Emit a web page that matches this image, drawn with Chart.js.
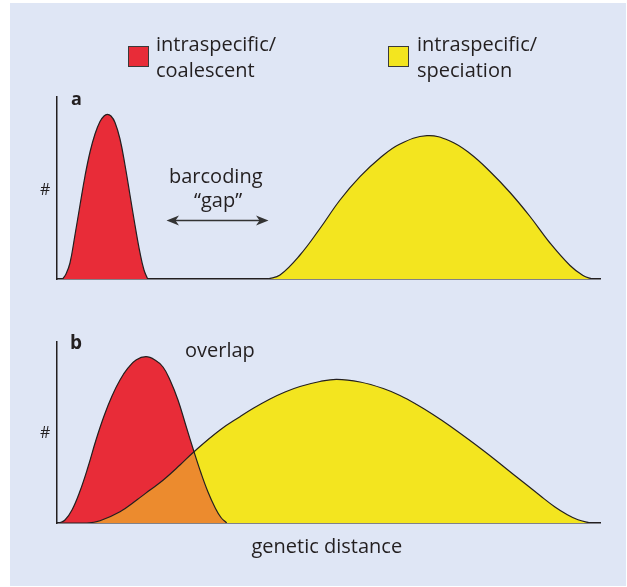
<!DOCTYPE html>
<html>
<head>
<meta charset="utf-8">
<script src="https://cdn.jsdelivr.net/npm/chart.js@4.4.1/dist/chart.umd.min.js"></script>
<style>
  body { margin: 0; background: #fff; font-family: 'Open Sans', sans-serif; color: #231f20; }
  #page { position: relative; width: 627px; height: 587px; overflow: hidden; }
  #panel { position: absolute; left: 10px; top: 3px; width: 616px; height: 583px; background: #dfe6f5; }
  canvas { position: absolute; left: 0; top: 0; }
  .txt { position: absolute; white-space: nowrap; line-height: 1; }
  .swatch { position: absolute; width: 19px; height: 19px; border: 1px solid #3a3a3a; }
  svg { position: absolute; left: 0; top: 0; }
</style>
</head>
<body>
<div id="page">
  <div id="panel"></div>
  <canvas id="chartA" width="627" height="587"></canvas>
  <canvas id="chartB" width="627" height="587"></canvas>
  <svg width="627" height="587">
    <line x1="174" y1="220.5" x2="261" y2="220.5" stroke="#333" stroke-width="1.5"/>
    <polygon points="166.5,220.5 179,215.5 175.5,220.5 179,225.5" fill="#333"/>
    <polygon points="268.5,220.5 256,215.5 259.5,220.5 256,225.5" fill="#333"/>
  </svg>
</div>
<script>
// panel a: genetic distance (0-100) vs count (0-100)
const redAX = [1.05, 1.66, 2.39, 3.31, 4.24, 5.16, 6.08, 7.0, 7.92, 8.66, 9.26, 9.94, 10.68, 11.6, 12.52, 13.44, 14.36, 15.29, 16.02, 16.7];
const redAY = [0, 2.75, 8.79, 24.18, 40.66, 56.59, 69.78, 79.67, 86.54, 89.56, 90.49, 89.56, 85.99, 76.92, 62.64, 46.15, 29.67, 14.29, 4.95, 0];
const yellowAX = [38.86, 41.07, 44.75, 48.43, 52.12, 55.8, 59.48, 63.17, 68.14, 72.38, 76.06, 79.74, 83.43, 87.11, 90.79, 94.48, 96.87, 98.53];
const yellowAY = [0, 2.2, 13.19, 27.75, 43.41, 56.21, 66.48, 74.18, 78.74, 75.82, 68.96, 59.07, 47.53, 34.34, 19.78, 7.42, 1.92, 0];

// panel b
const redBX = [0.42, 1.47, 2.76, 4.24, 5.71, 7.18, 8.66, 10.13, 11.6, 13.08, 14.55, 16.39, 18.05, 19.52, 20.81, 22.28, 23.76,
  25.23, 26.52, 27.81, 29.1, 30.2, 31.25];
const redBY = [0, 1.66, 7.18, 17.68, 30.94, 45.86, 59.12, 70.17, 79.01, 85.64, 90.06, 91.88, 90.06, 86.19, 79.01, 67.96, 53.59,
  39.39, 27.62, 17.13, 8.56, 3.04, 0];
const yellowBX = [0.42, 5.47, 7.92, 11.6, 14.68, 17.13, 19.58, 22.65, 25.23, 30.02, 33.7, 36.15, 39.23, 41.99, 44.75, 48.43, 51.51,
  55.8, 60.09, 63.17, 66.24, 69.24, 72.38, 78.51, 84.66, 88.95, 91.71, 93.92, 95.95, 98.16];
const yellowBY = [0, 0, 1.27, 6.24, 12.71, 18.23, 23.76, 32.04, 39.39, 51.38, 58.73, 63.37, 68.51, 72.38, 75.41, 78.18, 79.39,
  77.9, 74.31, 70.44, 65.47, 59.94, 53.59, 40.06, 25.41, 15.19, 8.84, 4.7, 1.77, 0];

const legendLabels = [['intraspecific/', 'coalescent'], ['intraspecific/', 'speciation']];
const gapLabel = ['barcoding', '\u201cgap\u201d'];
const overlapLabel = 'overlap';
const xTitle = 'genetic distance';
const yTitle = '#';

const RED = '#e82c38';
const YELLOW = '#f3e51f';
const ORANGE = '#ec8b2e';
const INK = '#231f20';

const page = document.getElementById('page');

function pts(xs, ys) {
  return xs.map((x, i) => ({ x: x, y: ys[i] }));
}

function addText(str, x, baseline, size, weight) {
  const el = document.createElement('div');
  el.className = 'txt';
  el.textContent = str;
  el.style.left = x + 'px';
  el.style.top = (baseline - 0.888 * size) + 'px';
  el.style.fontSize = size + 'px';
  if (weight) el.style.fontWeight = weight;
  page.appendChild(el);
}

function addSwatch(x, y, color) {
  const el = document.createElement('div');
  el.className = 'swatch';
  el.style.left = x + 'px';
  el.style.top = y + 'px';
  el.style.background = color;
  page.appendChild(el);
}

function baseOptions(top, bottom) {
  const axis = {
    min: 0, max: 100, z: 1,
    ticks: { display: false },
    grid: { display: false, drawTicks: false, tickLength: 0 },
    border: { color: INK, width: 1.5 }
  };
  return {
    responsive: false,
    animation: false,
    layout: { padding: { left: 57, right: 27, top: top, bottom: 587 - bottom } },
    plugins: { legend: { display: false }, tooltip: { enabled: false } },
    elements: { point: { radius: 0 }, line: { tension: 0.4 } },
    scales: {
      x: Object.assign({ type: 'linear' }, axis),
      y: Object.assign({}, axis)
    }
  };
}

new Chart(document.getElementById('chartA'), {
  type: 'line',
  data: {
    datasets: [
      { data: pts(redAX, redAY), fill: 'origin', backgroundColor: RED, borderColor: INK, borderWidth: 1.2 },
      { data: pts(yellowAX, yellowAY), fill: 'origin', backgroundColor: YELLOW, borderColor: INK, borderWidth: 1.2 }
    ]
  },
  options: baseOptions(97, 279)
});

// first dataset is drawn on top
new Chart(document.getElementById('chartB'), {
  type: 'line',
  data: {
    datasets: [
      { data: pts(yellowBX, yellowBY), fill: false, borderColor: INK, borderWidth: 1.2 },
      { data: pts(redBX, redBY), fill: false, borderColor: INK, borderWidth: 1.2 },
      { data: pts(redBX, redBY), fill: { target: 4, above: RED, below: 'rgba(0,0,0,0)' }, borderWidth: 0 },
      { data: pts(redBX, redBY), fill: 'origin', backgroundColor: ORANGE, borderWidth: 0 },
      { data: pts(yellowBX, yellowBY), fill: 'origin', backgroundColor: YELLOW, borderWidth: 0 }
    ]
  },
  options: baseOptions(342, 523)
});

addSwatch(128, 46, RED);
addSwatch(388, 46, YELLOW);
addText(legendLabels[0][0], 156, 51.7, 20);
addText(legendLabels[0][1], 156, 77.3, 20);
addText(legendLabels[1][0], 417, 51.7, 20);
addText(legendLabels[1][1], 417, 77.3, 20);

addText('a', 71, 105.3, 18, 700);
addText('b', 70, 350, 19, 700);
addText(yTitle, 40, 195, 16);
addText(yTitle, 40, 438, 16);
addText(gapLabel[0], 169, 183.3, 20);
addText(gapLabel[1], 194, 207.3, 20);
addText(overlapLabel, 185, 357.3, 20);
addText(xTitle, 251.5, 554, 20);
</script>
</body>
</html>
